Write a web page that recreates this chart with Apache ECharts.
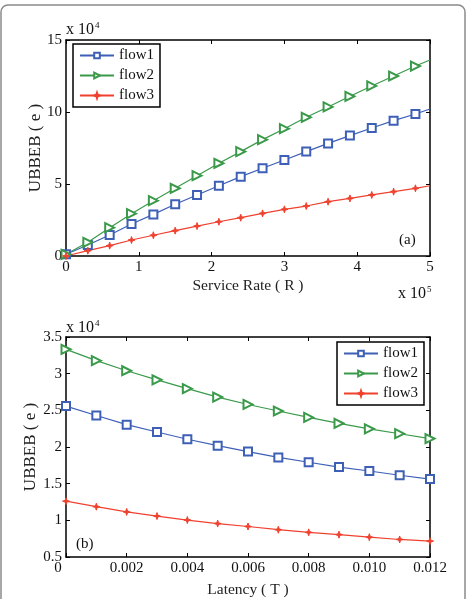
<!DOCTYPE html>
<html><head><meta charset="utf-8">
<script src="https://cdn.jsdelivr.net/npm/echarts@6/dist/echarts.min.js"></script>
<style>html,body{margin:0;padding:0;background:#fff}#c{width:467px;height:599px}</style>
</head><body><div id="c"></div>
<script>
// Chart (a): Service Rate (x 10^5) vs UBBEB (x 10^4)
const rateX = [0,0.3,0.6,0.9,1.2,1.5,1.8,2.1,2.4,2.7,3.0,3.3,3.6,3.9,4.2,4.5,4.8,5.0];
const aFlow1 = [0.12,0.76,1.46,2.22,2.89,3.59,4.24,4.88,5.51,6.09,6.67,7.25,7.82,8.36,8.89,9.40,9.86,10.21];
const aFlow2 = [0.12,0.95,1.97,2.94,3.84,4.70,5.58,6.44,7.25,8.08,8.84,9.63,10.35,11.09,11.81,12.50,13.19,13.61];
const aFlow3 = [0,0.37,0.72,1.11,1.44,1.76,2.08,2.38,2.66,2.96,3.24,3.47,3.77,4.00,4.24,4.47,4.70,4.88];
// Chart (b): Latency vs UBBEB (x 10^4)
const latX = [0,0.001,0.002,0.003,0.004,0.005,0.006,0.007,0.008,0.009,0.010,0.011,0.012];
const bFlow1 = [2.558,2.429,2.305,2.204,2.106,2.018,1.938,1.858,1.792,1.726,1.673,1.615,1.562];
const bFlow2 = [3.332,3.177,3.040,2.916,2.796,2.681,2.580,2.491,2.403,2.323,2.248,2.181,2.115];
const bFlow3 = [1.261,1.186,1.115,1.058,1.004,0.956,0.916,0.872,0.836,0.805,0.770,0.739,0.717];
const names = ['flow1','flow2','flow3'];

const FONT = '"Liberation Serif", "DejaVu Serif", serif';
const colors = ['#3d5fb6','#3a9a4a','#f0412f'];
const starPath = 'path://M0,-10L2.5,-2.5L10,0L2.5,2.5L0,10L-2.5,2.5L-10,0L-2.5,-2.5Z';
const symbols = [
  {symbol:'emptyRect', symbolSize:8, symbolRotate:0},
  {symbol:'emptyTriangle', symbolSize:9, symbolRotate:-90},
  {symbol:starPath, symbolSize:7, symbolRotate:0}
];

function pairs(xs, ys, lastNoMarker){
  return xs.map((x,i)=>{
    const item = {value:[x, ys[i]]};
    if (lastNoMarker && i === xs.length-1) item.symbol = 'none';
    return item;
  });
}
function mkSeries(k, xs, ys, xi, yi, lastNoMarker){
  return Object.assign({
    name: names[k], type:'line', xAxisIndex:xi, yAxisIndex:yi,
    data: pairs(xs, ys, lastNoMarker), showAllSymbol:true,
    lineStyle:{color:colors[k], width:1.2},
    itemStyle:{color:colors[k], borderColor:colors[k], borderWidth:1},
    animation:false, z:3
  }, symbols[k]);
}
const axLine = {show:true, onZero:false, lineStyle:{color:'#000', width:1.5}};
const tickIn = {show:true, inside:true, length:4, lineStyle:{color:'#000', width:1}};
const lab = {color:'#111', fontSize:15, fontFamily:FONT, margin:4};
function xAx(grid, pos, min, max, interval, showLabel, fmt, rich, name, gap){
  return {type:'value', gridIndex:grid, position:pos, min, max, interval,
    axisLine:axLine, axisTick:tickIn, splitLine:{show:false},
    axisLabel: showLabel ? Object.assign({}, lab, {formatter:fmt, rich:rich||{}}) : {show:false},
    name: name||'', nameLocation:'middle', nameGap:gap||0, nameMoveOverlap:false,
    nameTextStyle:{color:'#222', fontSize:15.5, fontFamily:FONT}};
}
function yAx(grid, pos, min, max, interval, showLabel, name, gap){
  return {type:'value', gridIndex:grid, position:pos, min, max, interval,
    axisLine:axLine, axisTick:tickIn, splitLine:{show:false},
    axisLabel: showLabel ? Object.assign({}, lab) : {show:false},
    name: name||'', nameLocation:'middle', nameGap:gap||0, nameRotate:90, nameMoveOverlap:false,
    nameTextStyle:{color:'#222', fontSize:17, fontFamily:FONT}};
}
function legend(left, top){
  return {orient:'vertical', left, top, data:names, itemWidth:34, itemHeight:7, itemGap:5,
    padding:[4,6,4,6], borderColor:'#000', borderWidth:1.5, backgroundColor:'#fff',
    textStyle:{fontSize:15, fontFamily:FONT, color:'#111'}, selectedMode:false};
}
function sci(x, y, exp){
  return {type:'text', left:x, top:y, style:{rich:{a:{fontSize:16,fontFamily:FONT,fill:'#111'}, s:{fontSize:9,fontFamily:FONT,fill:'#111', verticalAlign:'top', padding:[0,0,9,1]}}, text:'{a|x 10}{s|'+exp+'}'}};
}
const option = {
  backgroundColor:'#fff',
  animation:false,
  grid:[{left:66, top:40, width:364, height:216}, {left:66, top:337, width:364, height:226}],
  xAxis:[
    xAx(0,'bottom',0,5,1,true,v=>String(v),null,'Service Rate ( R )',22),
    xAx(0,'top',0,5,1,false),
    xAx(1,'bottom',0,0.012,0.002,true,v=> v===0 ? '{z|0}' : v.toFixed(3), {z:{fontSize:15,fontFamily:FONT,color:'#111',padding:[0,16,0,0]}},'Latency ( T )',25),
    xAx(1,'top',0,0.012,0.002,false)
  ],
  yAxis:[
    yAx(0,'left',0,15,5,true,'UBBEB ( e )',22),
    yAx(0,'right',0,15,5,false),
    yAx(1,'left',0.5,3.5,0.5,true,'UBBEB ( e )',27),
    yAx(1,'right',0.5,3.5,0.5,false)
  ],
  legend:[legend(73,44), legend(337,342)],
  series:[
    mkSeries(0, rateX, aFlow1, 0, 0, true),
    mkSeries(1, rateX, aFlow2, 0, 0, true),
    mkSeries(2, rateX, aFlow3, 0, 0, true),
    mkSeries(0, latX, bFlow1, 2, 2, false),
    mkSeries(1, latX, bFlow2, 2, 2, false),
    mkSeries(2, latX, bFlow3, 2, 2, false)
  ],
  graphic:[
    {type:'rect', shape:{x:1, y:5, width:464, height:700, r:7}, style:{fill:'none', stroke:'#8a8a8a', lineWidth:1.5}, silent:true},
    sci(66, 21, '4'),
    sci(66, 319, '4'),
    sci(398, 285, '5'),
    {type:'text', left:399, top:233, style:{text:'(a)', fontSize:15, fontFamily:FONT, fill:'#111'}},
    {type:'text', left:76, top:537, style:{text:'(b)', fontSize:15, fontFamily:FONT, fill:'#111'}}
  ]
};
const chart = echarts.init(document.getElementById('c'), null, {renderer:'canvas'});
chart.setOption(option);
</script>
</body></html>
